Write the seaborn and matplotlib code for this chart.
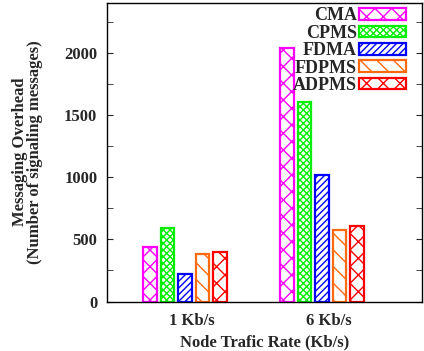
import matplotlib
matplotlib.use("Agg")
import matplotlib.pyplot as plt
import seaborn as sns
import pandas as pd
from matplotlib.ticker import MultipleLocator

categories = ["1 Kb/s", "6 Kb/s"]
series = ["CMA", "CPMS", "FDMA", "FDPMS", "ADPMS"]
cma = [435, 2040]
cpms = [590, 1600]
fdma = [218, 1020]
fdpms = [380, 578]
adpms = [395, 607]

colors = ["#ff00ff", "#00ee00", "#0000ff", "#ff6a10", "#ff0000"]
hatches = ["xx", "xxxxx", "/////", "\\\\", "xx"]

rows = []
for name, vals in zip(series, [cma, cpms, fdma, fdpms, adpms]):
    for c, v in zip(categories, vals):
        rows.append({"rate": c, "method": name, "value": v})
df = pd.DataFrame(rows)

sns.set_style("white")
plt.rcParams["font.family"] = ["Liberation Serif", "DejaVu Serif"]
plt.rcParams["font.weight"] = "bold"
plt.rcParams["hatch.linewidth"] = 1.0

fig = plt.figure(figsize=(4.24, 3.51), dpi=100)
ax = fig.add_axes([107/424, 1 - 301.5/351, (422-107)/424, (301.5-3)/351])

sns.barplot(data=df, x="rate", y="value", hue="method", order=categories,
            hue_order=series, ax=ax, width=0.64, gap=0.22, legend=False)

for i, name in enumerate(series):
    cont = ax.containers[i]
    for bar in cont:
        bar.set_facecolor("white")
        bar.set_edgecolor(colors[i])
        bar.set_hatch(hatches[i])
        bar.set_linewidth(1.6)
    cont.set_label(name)

ax.set_xlim(-0.57, 1.73)
ax.set_ylim(0, 2400)
ax.yaxis.set_major_locator(MultipleLocator(500))
ax.yaxis.set_minor_locator(MultipleLocator(250))
ax.tick_params(axis="y", which="both", direction="in", left=True, right=True,
               length=4, pad=7, labelsize=12)
ax.tick_params(axis="x", which="both", length=0, pad=8, labelsize=12)
ax.set_xticks([0.05, 1.05])
ax.set_xticklabels(categories, fontweight="bold")
for lab in ax.get_yticklabels():
    lab.set_fontweight("bold")
for sp in ax.spines.values():
    sp.set_linewidth(1.0)
    sp.set_color("black")
    sp.set_visible(True)

ax.set_xlabel("Node Trafic Rate (Kb/s)", fontsize=12, fontweight="bold", labelpad=4)
ax.set_ylabel("Messaging Overhead\n(Number of signaling messages)", fontsize=12,
              fontweight="bold", labelpad=15, linespacing=0.95)

leg = ax.legend(loc="upper right", frameon=False, markerfirst=False,
                prop={"size": 13, "weight": "bold"}, handlelength=2.6,
                handleheight=0.6, labelspacing=0.02, handletextpad=0.1,
                borderaxespad=0.0, borderpad=0.0, bbox_to_anchor=(0.948, 0.985))
for col in leg._legend_handle_box.get_children():
    col.align = "right"

fig.savefig("out.png", dpi=100)
